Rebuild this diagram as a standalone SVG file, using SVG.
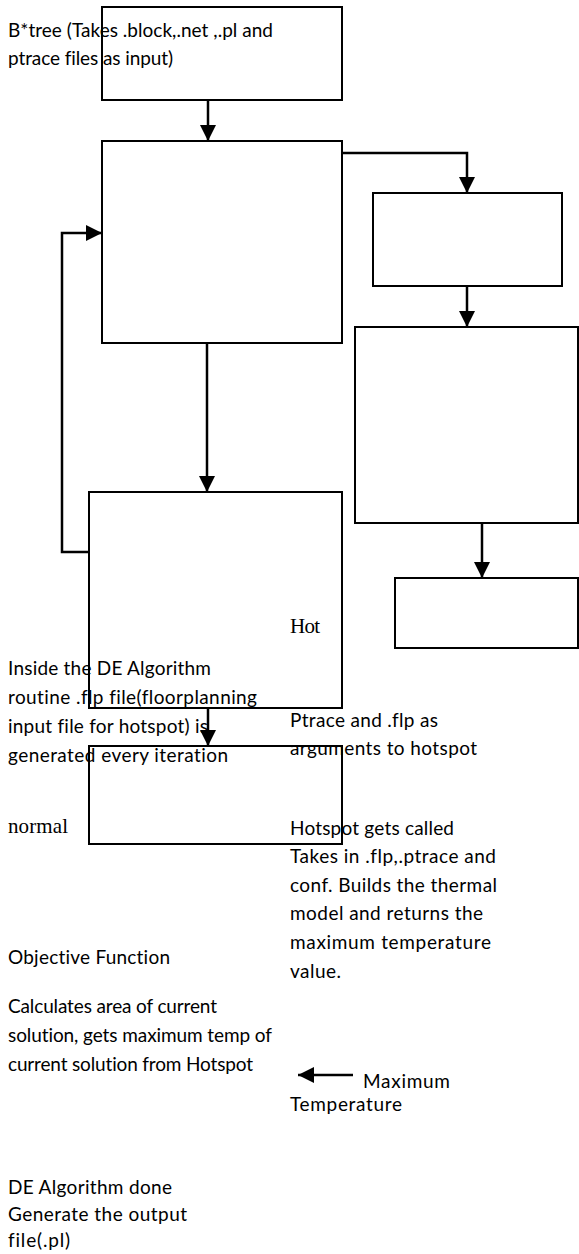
<svg xmlns="http://www.w3.org/2000/svg" width="579" height="1254" viewBox="0 0 579 1254">
<style>
.bg{fill:#ffffff}
.box{fill:none;stroke:#000;stroke-width:2}
.c{fill:none;stroke:#000;stroke-width:2.5}
.t{font-family:Lato,"Liberation Sans",sans-serif;font-size:19px;fill:#000;font-variant-ligatures:none}
.s{font-family:"Liberation Serif",serif;font-size:21px;fill:#000}
</style>
<defs>
<marker id="ah" viewBox="0 0 16 16" refX="16" refY="8" markerWidth="16" markerHeight="16" markerUnits="userSpaceOnUse" orient="auto">
<path d="M0,0 L16,8 L0,16 Z" fill="#000"/>
</marker>
</defs>
<rect class="bg" x="0" y="0" width="579" height="1254"/>
<g id="labels">
<text class="t" x="8" y="37" textLength="265">B*tree (Takes .block,.net ,.pl and</text>
<text class="t" x="8" y="65" textLength="165">ptrace files as input)</text>
<text class="t" x="8" y="675" textLength="203">Inside the DE Algorithm</text>
<text class="t" x="8" y="704" textLength="249">routine .flp file(floorplanning</text>
<text class="t" x="8" y="733" textLength="200">input file for hotspot) is</text>
<text class="t" x="8" y="762" textLength="220">generated every iteration</text>
<text class="s" x="8" y="833" textLength="60">normal</text>
<text class="t" x="8" y="964" textLength="162">Objective Function</text>
<text class="t" x="8" y="1013" textLength="209">Calculates area of current</text>
<text class="t" x="8" y="1042" textLength="264">solution, gets maximum temp of</text>
<text class="t" x="8" y="1071" textLength="245">current solution from Hotspot</text>
<text class="t" x="8" y="1194" textLength="164">DE Algorithm done</text>
<text class="t" x="8" y="1221" textLength="179">Generate the output</text>
<text class="t" x="8" y="1247" textLength="62">file(.pl)</text>
<text class="s" x="290" y="633" textLength="30">Hot</text>
<text class="t" x="290" y="727" textLength="148">Ptrace and .flp as</text>
<text class="t" x="290" y="755" textLength="187">arguments to hotspot</text>
<text class="t" x="290" y="835" textLength="164">Hotspot gets called</text>
<text class="t" x="290" y="863" textLength="206">Takes in .flp,.ptrace and</text>
<text class="t" x="290" y="892" textLength="207">conf. Builds the thermal</text>
<text class="t" x="290" y="920" textLength="193">model and returns the</text>
<text class="t" x="290" y="949" textLength="201">maximum temperature</text>
<text class="t" x="290" y="978" textLength="51">value.</text>
<text class="t" x="363" y="1088" textLength="87">Maximum</text>
<text class="t" x="290" y="1111" textLength="112">Temperature</text>
</g>
<g id="node-btree"><rect class="box" x="102" y="7" width="240" height="93"/></g>
<g id="node-de"><rect class="box" x="102" y="141" width="240" height="202"/></g>
<g id="node-r1"><rect class="box" x="373" y="193" width="189" height="93"/></g>
<g id="node-r2"><rect class="box" x="355" y="327" width="223" height="196"/></g>
<g id="node-r3"><rect class="box" x="395" y="578" width="183" height="70"/></g>
<g id="node-flp"><rect class="box" x="89" y="492" width="253" height="216"/></g>
<g id="node-hotspot"><rect class="box" x="89" y="746" width="253" height="98"/></g>
<g id="connectors">
<path class="c" d="M208,100 V141" marker-end="url(#ah)"/>
<path class="c" d="M342,153 H467 V193" marker-end="url(#ah)"/>
<path class="c" d="M467,286 V327" marker-end="url(#ah)"/>
<path class="c" d="M482,523 V578" marker-end="url(#ah)"/>
<path class="c" d="M207,343 V492" marker-end="url(#ah)"/>
<path class="c" d="M89,552 H62 V233 H102" marker-end="url(#ah)"/>
<path class="c" d="M208,708 V746" marker-end="url(#ah)"/>
<path class="c" d="M353,1075 H298" marker-end="url(#ah)"/>
</g>
</svg>
